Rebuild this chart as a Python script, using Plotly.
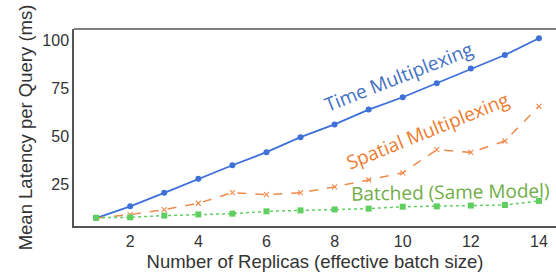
import plotly.graph_objects as go

replicas = list(range(1, 15))
time_mux = [7.6, 13.7, 20.7, 28.0, 35.0, 41.8, 49.6, 56.2, 63.9, 70.3, 77.6, 85.2, 92.2, 100.9]
spatial_mux = [7.6, 9.4, 12.0, 15.3, 20.8, 19.8, 20.8, 23.8, 27.4, 31.1, 43.1, 41.7, 47.6, 65.6]
batched = [7.8, 8.0, 8.9, 9.5, 9.9, 11.1, 11.6, 12.1, 12.5, 13.5, 13.7, 14.1, 14.4, 16.5]

x_ticks = [2, 4, 6, 8, 10, 12, 14]
y_ticks = [25, 50, 75, 100]

fig = go.Figure()
fig.add_trace(go.Scatter(x=replicas, y=time_mux, mode="lines+markers",
                         line=dict(color="#3e70d8", width=1.8),
                         marker=dict(symbol="circle", size=6, color="#3e70d8")))
fig.add_trace(go.Scatter(x=replicas, y=spatial_mux, mode="lines+markers",
                         line=dict(color="#f08a4b", width=1.5, dash="dash"),
                         marker=dict(symbol="x-thin", size=5, color="#f08a4b",
                                     line=dict(color="#f08a4b", width=1.1))))
fig.add_trace(go.Scatter(x=replicas, y=batched, mode="lines+markers",
                         line=dict(color="#5fcf5f", width=1.5, dash="dot"),
                         marker=dict(symbol="square", size=6, color="#5fcf5f")))

ann_font = "Open Sans"
# pixel positions (centre) of the rotated labels
labels = [
    ("Time Multiplexing", 398, 77, -21.5, "#4472c4"),
    ("Spatial Multiplexing", 427, 131, -22, "#ed7d31"),
    ("Batched (Same Model)", 450, 192, -1, "#70ad47"),
]

L, T, W, H = 74, 29, 556 - 74, 226 - 29
xr = [0.35, 14.5]
yr = [3.5, 105.7]
for text, px, py, ang, col in labels:
    fig.add_annotation(
        x=xr[0] + (px - L) / W * (xr[1] - xr[0]),
        y=yr[1] - (py - T) / H * (yr[1] - yr[0]),
        text=text, showarrow=False, textangle=ang,
        font=dict(family=ann_font, size=19, color=col))

fig.add_shape(type="line", xref="paper", yref="paper", x0=0, x1=1, y0=1, y1=1,
              line=dict(color="#555555", width=1.5))

fig.update_layout(
    width=556, height=277,
    margin=dict(l=L, r=0, t=T, b=277 - 226, autoexpand=False),
    plot_bgcolor="white", paper_bgcolor="white",
    showlegend=False,
    font=dict(family="Liberation Sans, Arial", color="#333333"),
)
fig.update_xaxes(range=xr, tickvals=x_ticks, showgrid=False, zeroline=False,
                 showline=True, linecolor="#555555", linewidth=1.5,
                 ticks="", tickfont=dict(size=16, color="#333333"), automargin=False,
                 title=dict(text="Number of Replicas (effective batch size)",
                            font=dict(size=18.5, color="#333333"), standoff=6))
fig.update_yaxes(range=yr, tickvals=y_ticks, showgrid=False, zeroline=False,
                 showline=True, linecolor="#555555", linewidth=1.5,
                 ticks="", tickfont=dict(size=16, color="#333333"), automargin=False,
                 title=dict(text="Mean Latency per Query (ms)",
                            font=dict(size=18.5, color="#333333"), standoff=5))

fig.write_html("out.html", config={"displayModeBar": False},
               post_script="document.body.style.margin='0';")
